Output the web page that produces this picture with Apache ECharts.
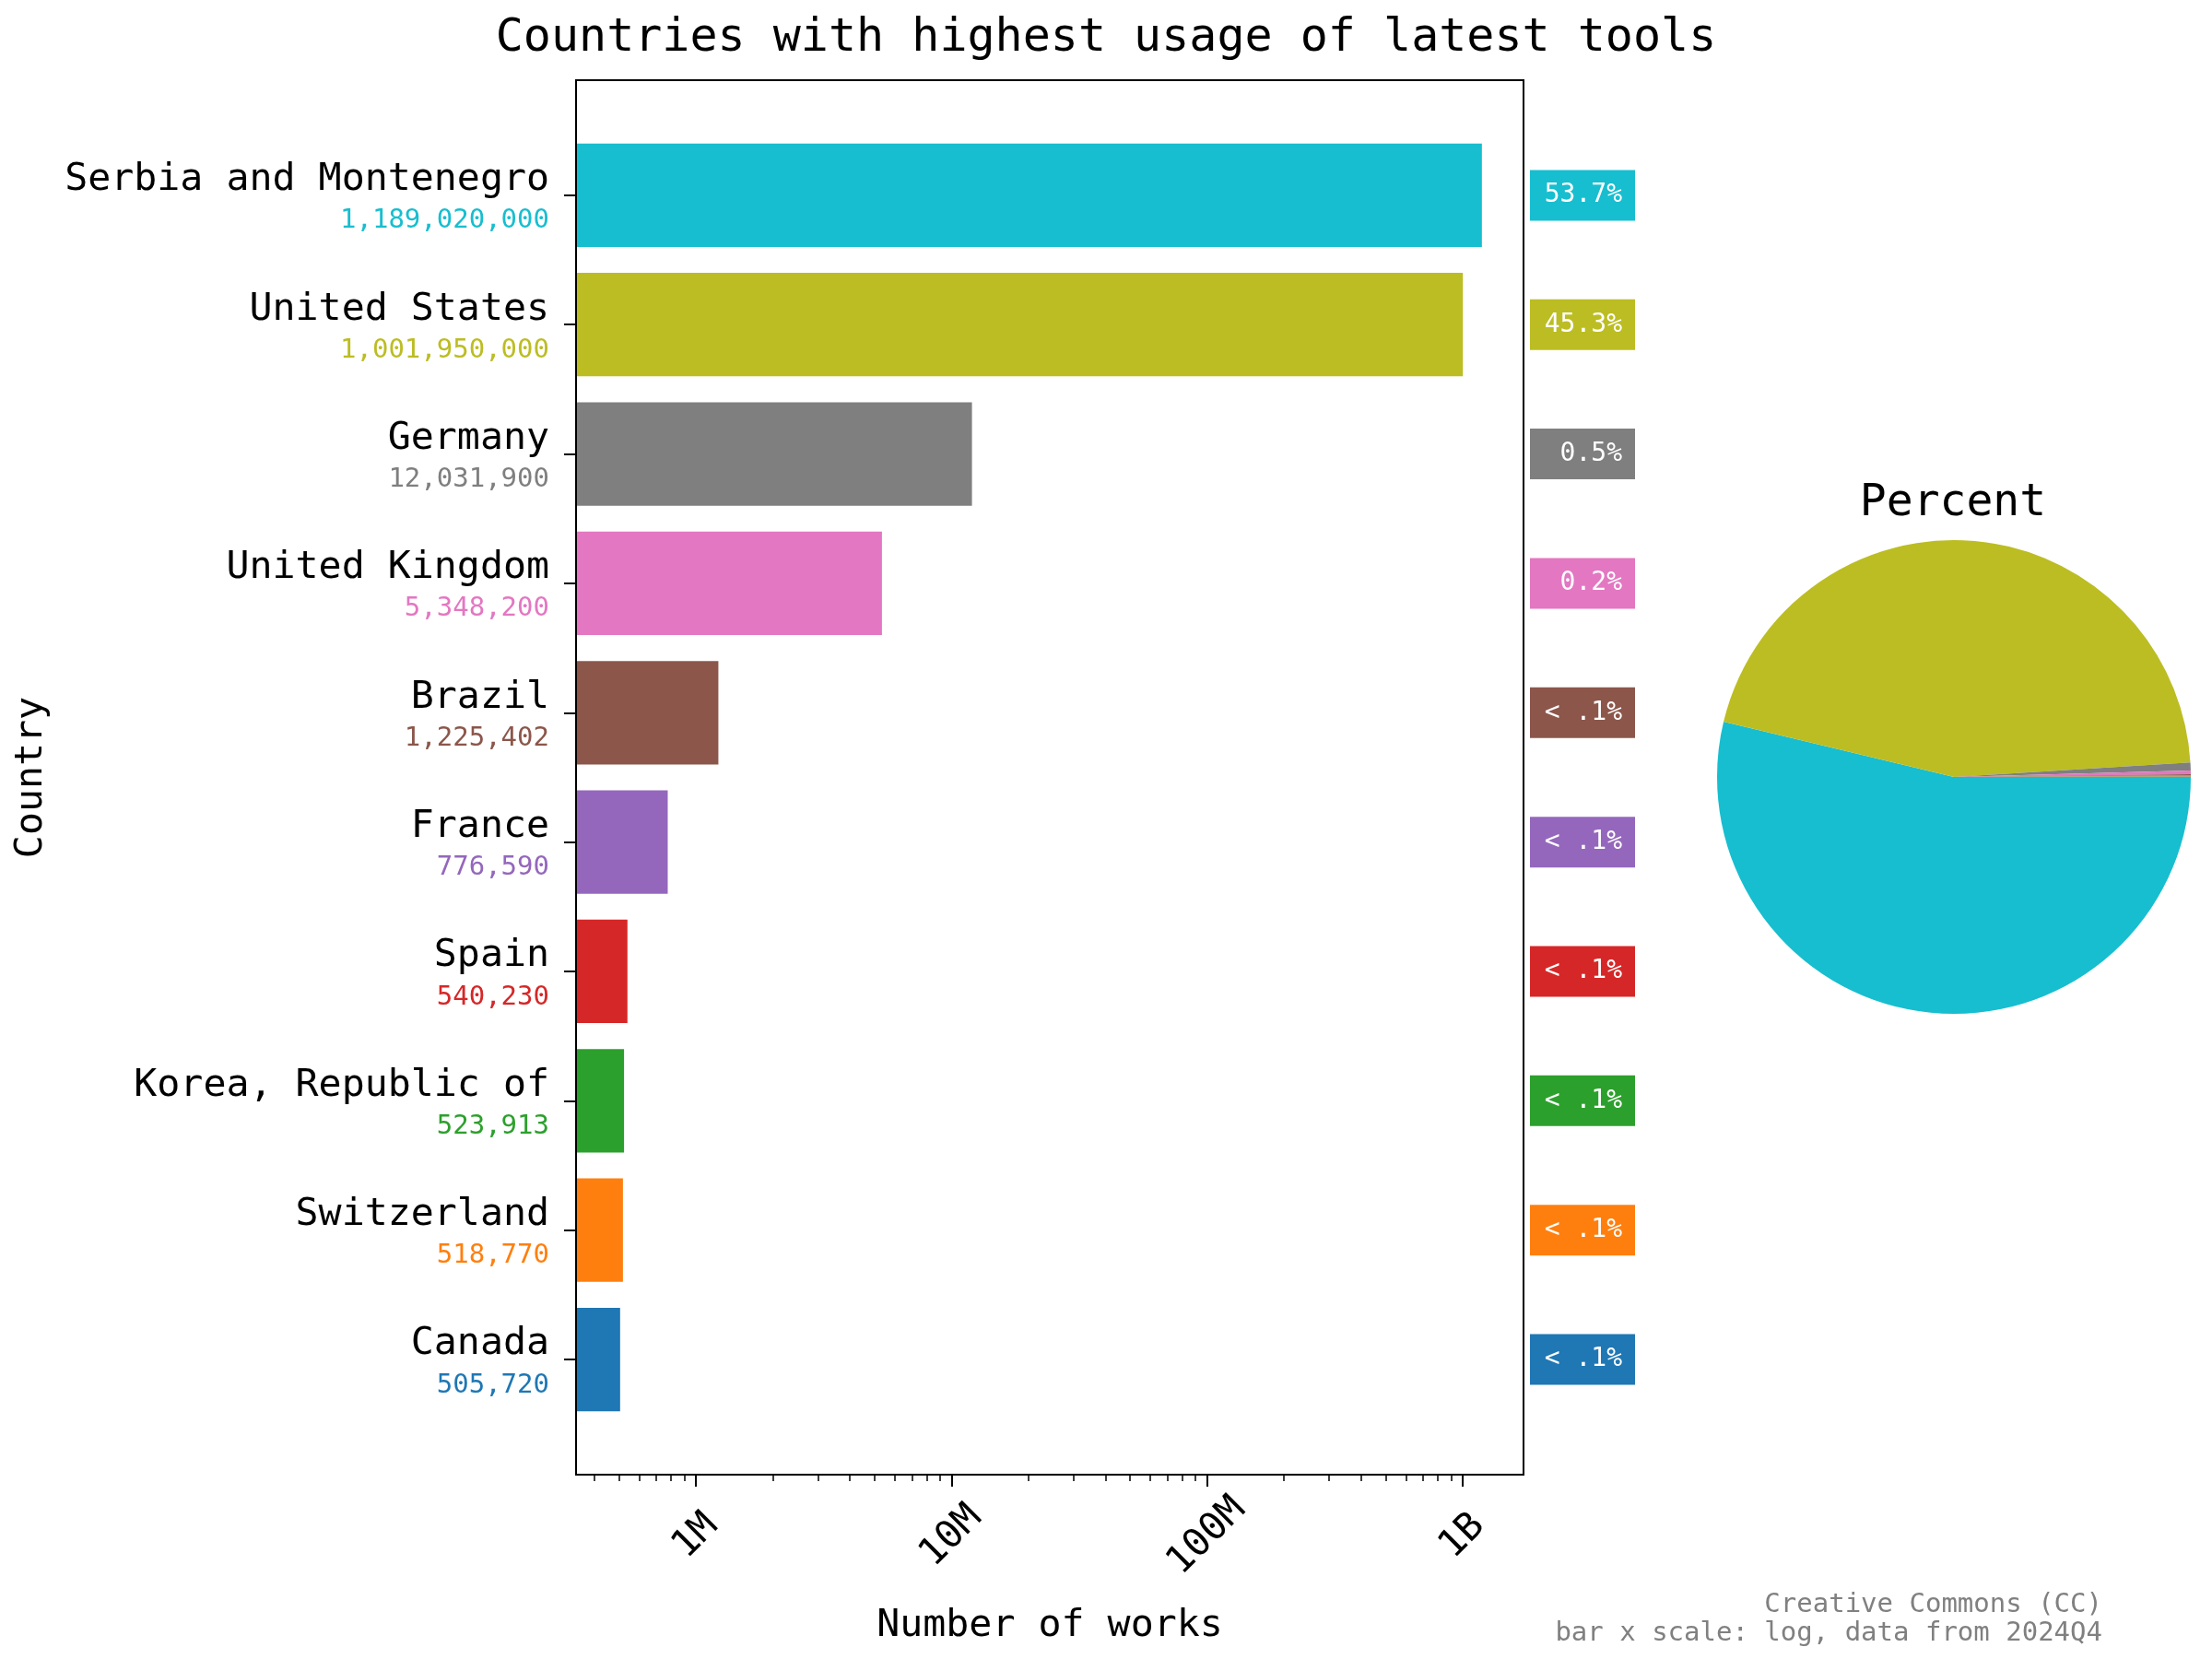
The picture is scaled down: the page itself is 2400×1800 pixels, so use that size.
<!DOCTYPE html>
<html lang="en">
<head>
<meta charset="UTF-8" />
<title>Countries with highest usage of latest tools</title>
<script src="https://cdn.jsdelivr.net/npm/echarts@6/dist/echarts.min.js"></script>
<style>
  html, body { margin: 0; padding: 0; background: #fff; }
  #main { width: 2400px; height: 1800px; }
</style>
</head>
<body>
<div id="main"></div>
<script>
  // data
  const countries = [
    'Serbia and Montenegro', 'United States', 'Germany', 'United Kingdom', 'Brazil',
    'France', 'Spain', 'Korea, Republic of', 'Switzerland', 'Canada'
  ]
  const works = [1189020000, 1001950000, 12031900, 5348200, 1225402, 776590, 540230, 523913, 518770, 505720]
  const colors = ['#17becf', '#bcbd22', '#7f7f7f', '#e377c2', '#8c564b', '#9467bd', '#d62728', '#2ca02c', '#ff7f0e', '#1f77b4']
  const majorTicks = [1e6, 1e7, 1e8, 1e9]
  const majorLabels = ['1M', '10M', '100M', '1B']
  const footerLines = ['Creative Commons (CC)', 'bar x scale: log, data from 2024Q4']
  const xMin = 340000
  const xMax = 1.73e9

  const mono = 'DejaVu Sans Mono'

  // log minor ticks (2..9 x 10^n) inside the axis range
  const minorTicks = []
  for (let e = 5; e <= 9; e++) {
    for (let k = 2; k <= 9; k++) {
      const v = k * Math.pow(10, e)
      if (v >= xMin && v <= xMax) minorTicks.push(v)
    }
  }

  const total = works.reduce((a, b) => a + b, 0)
  function pctText(v) {
    const p = v / total * 100
    return p < 0.1 ? '< .1%' : p.toFixed(1) + '%'
  }

  // rich styles for the left labels and the right percent boxes
  const leftRich = { n: { fontFamily: mono, fontSize: 41.6, lineHeight: 56, color: '#000', align: 'right' } }
  const rightRich = {}
  colors.forEach((c, i) => {
    leftRich['v' + i] = { fontFamily: mono, fontSize: 29, lineHeight: 33, color: c, align: 'right' }
    rightRich['b' + i] = {
      fontFamily: mono, fontSize: 28, color: '#fff', backgroundColor: c,
      width: 100, height: 55, lineHeight: 55, padding: [0, 14, 0, 0], align: 'right'
    }
  })

  const chart = echarts.init(document.getElementById('main'))

  const option = {
    backgroundColor: '#fff',
    animation: false,
    title: [
      {
        text: 'Countries with highest usage of latest tools',
        left: 'center',
        top: 12,
        textStyle: { fontFamily: mono, fontSize: 50, fontWeight: 'normal', color: '#000' }
      },
      {
        text: 'Percent',
        left: 2114,
        textAlign: 'center',
        top: 518,
        textStyle: { fontFamily: mono, fontSize: 48, fontWeight: 'normal', color: '#000' }
      }
    ],
    grid: [
      // frame of the bar plot
      { left: 625, top: 87, width: 1028, height: 1513, show: true, borderColor: '#000', borderWidth: 2, backgroundColor: 'transparent', z: 5 },
      // bar band area (matplotlib keeps a margin above and below)
      { left: 625, top: 141.7, width: 1028, height: 1403.5 }
    ],
    xAxis: [
      {
        gridIndex: 0,
        type: 'log',
        logBase: 10,
        position: 'bottom',
        min: xMin,
        max: xMax,
        name: 'Number of works',
        nameLocation: 'middle',
        nameGap: 143,
        nameTextStyle: { fontFamily: mono, fontSize: 41.6, color: '#000' },
        axisLine: { show: true, lineStyle: { color: '#000', width: 2 } },
        axisTick: { show: true, customValues: majorTicks, length: 13, lineStyle: { color: '#000', width: 2 } },
        axisLabel: {
          customValues: majorTicks,
          formatter: v => majorLabels[Math.round(Math.log10(v)) - 6],
          rotate: 45,
          align: 'center',
          verticalAlign: 'middle',
          margin: 67,
          fontFamily: mono,
          fontSize: 41.6,
          color: '#000'
        },
        splitLine: { show: false }
      },
      {
        gridIndex: 0,
        type: 'log',
        logBase: 10,
        position: 'bottom',
        min: xMin,
        max: xMax,
        axisLine: { show: false },
        axisTick: { show: true, customValues: minorTicks, length: 7, lineStyle: { color: '#000', width: 1.5 } },
        axisLabel: { show: false },
        splitLine: { show: false }
      },
      {
        gridIndex: 1,
        type: 'log',
        logBase: 10,
        min: xMin,
        max: xMax,
        show: false,
        splitLine: { show: false }
      }
    ],
    yAxis: [
      {
        gridIndex: 0,
        type: 'value',
        min: 0,
        max: 1,
        name: 'Country',
        nameLocation: 'middle',
        nameGap: 570,
        nameTextStyle: { fontFamily: mono, fontSize: 41.6, color: '#000' },
        axisLine: { show: false },
        axisTick: { show: false },
        axisLabel: { show: false },
        splitLine: { show: false }
      },
      {
        gridIndex: 1,
        type: 'category',
        inverse: true,
        data: countries,
        axisLine: { show: false },
        axisTick: { show: true, alignWithLabel: true, length: 13, lineStyle: { color: '#000', width: 2 } },
        axisLabel: {
          margin: 29,
          align: 'right',
          formatter: (val, idx) => '{n|' + val + '}\n{v' + idx + '|' + works[idx].toLocaleString('en-US') + '}',
          rich: leftRich
        },
        splitLine: { show: false }
      },
      {
        gridIndex: 1,
        type: 'category',
        inverse: true,
        position: 'right',
        data: countries,
        axisLine: { show: false },
        axisTick: { show: false },
        axisLabel: {
          margin: 7,
          align: 'left',
          formatter: (val, idx) => '{b' + idx + '|' + pctText(works[idx]) + '}',
          rich: rightRich
        },
        splitLine: { show: false }
      }
    ],
    series: [
      {
        type: 'bar',
        xAxisIndex: 2,
        yAxisIndex: 1,
        barWidth: '80%',
        clip: true,
        silent: true,
        data: works.map((v, i) => ({ value: v, itemStyle: { color: colors[i] } }))
      },
      {
        type: 'pie',
        center: [2120, 843],
        radius: 257,
        startAngle: 0,
        clockwise: true,
        silent: true,
        label: { show: false },
        labelLine: { show: false },
        emphasis: { disabled: true },
        data: countries.map((c, i) => ({ name: c, value: works[i], itemStyle: { color: colors[i] } }))
      }
    ],
    graphic: footerLines.map((t, i) => ({
      type: 'text',
      right: 119,
      top: 1727 + i * 31,
      style: { text: t, fill: '#808080', fontFamily: mono, fontSize: 29 }
    }))
  }

  chart.setOption(option)
</script>
</body>
</html>
